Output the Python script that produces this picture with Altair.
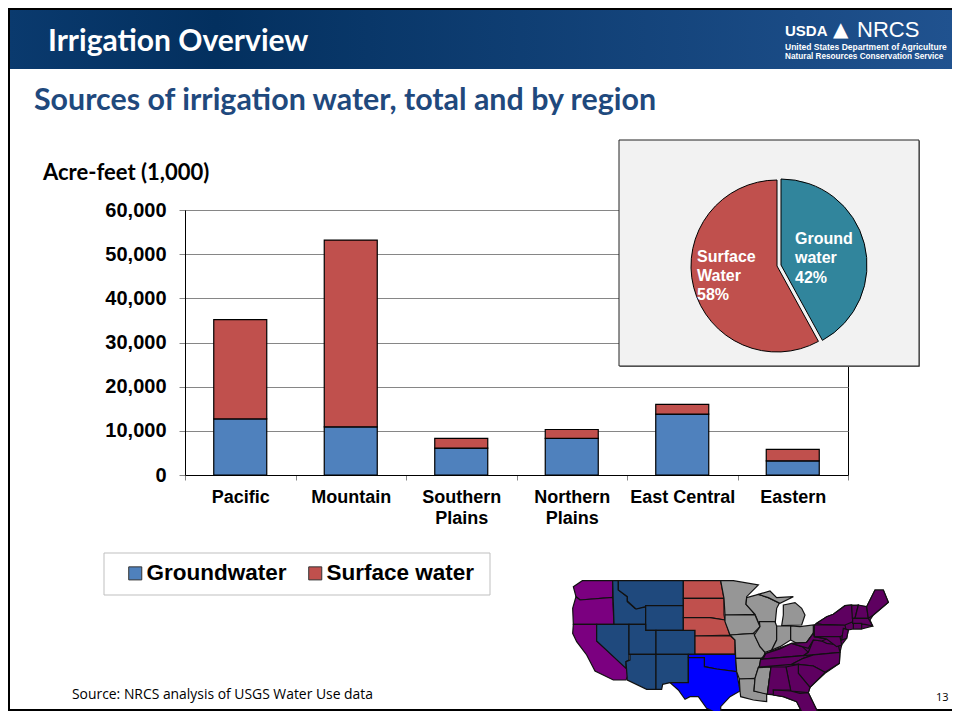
import math
import altair as alt
import pandas as pd

# ---- chart values ----
regions = ["Pacific", "Mountain", "Southern Plains", "Northern Plains", "East Central", "Eastern"]
groundwater = [12700, 10900, 6100, 8300, 13800, 3200]
surface_water = [22500, 42300, 2200, 2000, 2200, 2600]
series_names = ["Groundwater", "Surface water"]
series_colors = ["#4F81BD", "#C0504D"]
y_ticks = [0, 10000, 20000, 30000, 40000, 50000, 60000]
pie_names = ["Ground water", "Surface Water"]
pie_shares = [42, 58]
pie_colors = ["#31859C", "#C0504D"]

# ---- map outlines (crop pixels) ----
map_regions = {
    "#7B0080": [
        [(70,65),(97,47),(188,47),(188,97),(90,105),(78,95)],
        [(90,105),(188,97),(192,178),(70,178),(68,130),(78,95)],
        [(70,178),(140,178),(140,228),(240,318),(228,345),(190,345),(135,318),(110,270),(80,230),(68,205)],
    ],
    "#1F497D": [
        [(188,47),(205,47),(205,75),(232,95),(232,110),(255,130),(287,125),(287,178),(192,178)],
        [(205,47),(400,47),(400,122),(287,122),(287,125),(258,132),(232,108),(232,95),(205,75)],
        [(287,122),(400,122),(400,196),(287,196)],
        [(140,178),(237,178),(237,285),(228,290),(228,310),(140,228)],
        [(237,178),(287,178),(287,196),(318,196),(318,268),(237,268)],
        [(318,196),(435,196),(435,268),(318,268)],
        [(240,268),(318,268),(318,373),(290,373),(232,345),(228,290),(240,285)],
        [(318,268),(415,268),(415,353),(360,353),(338,358),(335,373),(318,373)],
    ],
    "#C0504D": [
        [(400,47),(512,47),(522,100),(400,100)],
        [(400,100),(522,100),(522,150),(525,165),(480,158),(400,158)],
        [(400,158),(480,158),(525,165),(540,210),(435,213),(435,196),(400,196)],
        [(435,213),(540,212),(555,225),(555,267),(435,267)],
    ],
    "#0000FF": [
        [(415,268),(557,268),(560,320),(500,312),(463,305),(463,278),(415,278)],
        [(415,278),(463,278),(463,305),(500,312),(560,320),(570,378),(540,395),(512,425),(513,450),(470,430),(445,395),(420,395),(405,403),(385,375),(360,353),(415,353)],
    ],
    "#969696": [
        [(512,47),(550,47),(625,60),(590,95),(588,118),(615,148),(525,150),(522,100)],
        [(590,98),(625,88),(655,98),(688,115),(680,130),(675,180),(628,180),(615,148),(588,118)],
        [(625,88),(660,78),(680,98),(730,95),(690,115),(655,98)],
        [(700,120),(735,113),(755,130),(765,150),(755,180),(695,182),(700,150)],
        [(525,150),(615,150),(630,185),(610,205),(540,210),(525,170)],
        [(540,210),(612,205),(630,245),(645,262),(640,280),(557,280),(555,225)],
        [(628,170),(675,170),(680,183),(680,225),(665,255),(645,262),(630,245),(613,210),(630,185)],
        [(680,183),(722,183),(722,225),(690,245),(665,255),(680,225)],
        [(722,183),(750,185),(790,180),(790,205),(770,232),(750,240),(722,225)],
        [(557,280),(640,280),(625,308),(615,340),(568,342),(560,320)],
        [(568,342),(615,340),(612,378),(650,385),(650,410),(610,405),(572,395),(570,378)],
        [(625,308),(663,306),(652,388),(612,378),(615,340)],
    ],
    "#5E0060": [
        [(632,283),(648,265),(725,235),(770,232),(790,205),(793,180),(800,175),(830,155),(850,148),(885,122),(905,120),(950,125),(975,75),(1000,75),(1015,112),(970,150),(960,165),(968,183),(935,192),(910,192),(895,195),(890,220),(875,240),(870,262),(868,295),(825,325),(780,367),(775,383),(805,445),(795,470),(770,470),(740,410),(700,395),(670,390),(652,388),(663,306),(628,306)],
        [(640,280),(648,265),(690,252),(725,235),(757,245),(775,262),(760,272),(632,283)],
        [(632,283),(760,272),(800,266),(760,280),(725,298),(628,306)],
        [(760,272),(775,262),(790,225),(815,228),(830,235),(865,240),(870,262)],
        [(725,235),(770,232),(790,205),(793,215),(830,222),(815,228),(790,225),(775,250),(757,245)],
        [(790,270),(870,262),(868,295),(825,322),(790,303),(745,298),(725,298),(760,280)],
        [(745,298),(790,303),(825,322),(780,367),(745,325)],
        [(708,306),(745,298),(745,325),(780,367),(775,383),(722,378)],
        [(663,306),(708,306),(722,375),(670,375),(672,388),(652,388)],
        [(670,375),(722,378),(750,385),(775,383),(805,445),(795,470),(770,470),(740,410),(700,395),(670,390)],
        [(793,180),(885,180),(890,205),(870,215),(793,215)],
        [(800,175),(830,155),(850,148),(885,122),(905,120),(910,170),(885,180),(815,178)],
        [(880,190),(895,195),(890,220),(875,225)],
        [(793,215),(870,215),(875,240),(860,245),(830,222)],
        [(905,122),(925,120),(915,160),(907,160)],
        [(925,120),(950,125),(955,160),(915,160)],
        [(950,125),(975,75),(1000,75),(1015,112),(970,150),(955,160)],
        [(908,160),(955,160),(968,183),(945,178),(908,175)],
        [(910,175),(935,175),(935,192),(910,192)],
    ],
}

OX, OY = 185, 210
PLOT_W, PLOT_H = 663, 265
RIGHT_EDGE, BOTTOM_EDGE = 952, 711
one = pd.DataFrame({"k": [1]})


def box(x0, y0, x1, y1, **style):
    return alt.Chart(one).mark_rect(**style).encode(
        x=alt.value(x0 - OX), x2=alt.value(x1 - OX),
        y=alt.value(y0 - OY), y2=alt.value(y1 - OY),
    )


def label(s, x, y, size, color="black", font="Liberation Sans", weight="normal", align="left"):
    return alt.Chart(one).mark_text(
        text=s, font=font, fontSize=size, fontWeight=weight, color=color,
        align=align, baseline="alphabetic",
    ).encode(x=alt.value(x - OX), y=alt.value(y - OY))


# ---- stacked bars ----
rows = []
for r, g, s in zip(regions, groundwater, surface_water):
    rows.append({"region": r, "source": series_names[0], "value": g, "idx": 0})
    rows.append({"region": r, "source": series_names[1], "value": s, "idx": 1})
bars = alt.Chart(pd.DataFrame(rows)).mark_bar(size=53, stroke="black", strokeWidth=1.2).encode(
    x=alt.X("region:N", sort=regions, title=None,
            scale=alt.Scale(paddingInner=0, paddingOuter=0),
            axis=alt.Axis(
                labelAngle=0, labelFont="Liberation Sans", labelFontSize=18, labelFontWeight="bold",
                labelColor="black", labelPadding=8, labelLineHeight=21, tickBand="extent",
                tickColor="#868686", tickSize=5, domainColor="black", labelLimit=200,
                labelExpr="datum.value == 'East Central' ? datum.label : split(datum.label, ' ')",
            )),
    y=alt.Y("value:Q", stack="zero", title=None,
            scale=alt.Scale(domain=[0, 60000], nice=False),
            axis=alt.Axis(
                values=y_ticks, format=",d", labelFont="Liberation Sans", labelFontSize=20,
                labelFontWeight="bold", labelColor="black", labelPadding=13, tickColor="#868686",
                tickSize=6, domainColor="black", gridColor="#868686", grid=True,
            )),
    order=alt.Order("idx:Q", sort="ascending"),
    color=alt.Color("source:N", title=None,
                    scale=alt.Scale(domain=series_names, range=series_colors),
                    legend=alt.Legend(
                        orient="none", legendX=124 - OX - 2, legendY=560 - OY, direction="horizontal",
                        symbolType="square", symbolSize=170, symbolStrokeColor="#333333",
                        symbolStrokeWidth=1, labelFont="Liberation Sans", labelFontSize=22.5,
                        labelFontWeight="bold", labelColor="black", columnPadding=17, labelOffset=0,
                        padding=2, labelLimit=300,
                    )),
)

# ---- inset pie ----
starts = [sum(pie_shares[:i]) for i in range(len(pie_shares))]
theta_scale = alt.Scale(domain=[0, 100], range=[0, 2 * math.pi])


def slice_layer(i, cx, cy):
    d = pd.DataFrame({"name": [pie_names[i]], "start": [starts[i]], "end": [starts[i] + pie_shares[i]]})
    return alt.Chart(d).mark_arc(radius=86, stroke="black", strokeWidth=1, fill=pie_colors[i]).encode(
        theta=alt.Theta("start:Q", scale=theta_scale),
        theta2=alt.Theta2("end:Q"),
        x=alt.value(cx - OX), y=alt.value(cy - OY),
    )


# ---- small map ----
map_rows = []
for color, polys in map_regions.items():
    for n, poly in enumerate(polys):
        for j, (px, py) in enumerate(poly):
            map_rows.append({"poly": f"{color}-{n:02d}", "j": j, "px": px, "py": py})
map_df = pd.DataFrame(map_rows)


def map_layer(color):
    d = map_df[map_df["poly"].str.startswith(color)]
    return alt.Chart(d).mark_line(
        fill=color, stroke="#111111", strokeWidth=1.2, interpolate="linear-closed"
    ).encode(
        x=alt.X("px:Q", axis=None, scale=alt.Scale(domain=[0, 1050], range=[550 - OX, 900 - OX], nice=False, zero=False)),
        y=alt.Y("py:Q", axis=None, scale=alt.Scale(domain=[0, 474], range=[565 - OY, 723 - OY], nice=False, zero=False)),
        detail="poly:N",
        order="j:Q",
    )


layers = [
    bars,
    # header band
    box(8, 8, RIGHT_EDGE, 69, fill=alt.LinearGradient(
        gradient="linear", x1=0, x2=1, y1=0, y2=0,
        stops=[alt.GradientStop(color="#0A3A6E", offset=0),
               alt.GradientStop(color="#03305F", offset=0.22),
               alt.GradientStop(color="#20528F", offset=1)])),
    box(8, 8, RIGHT_EDGE, 10, fill="black"),
    box(8, 8, 10, BOTTOM_EDGE, fill="black"),
    box(8, BOTTOM_EDGE - 2, RIGHT_EDGE, BOTTOM_EDGE, fill="black"),
    label("Irrigation Overview", 48, 51, 30, "white", "Lato", "bold"),
    label("Sources of irrigation water, total and by region", 34, 110, 30.4, "#1F497D", "Lato", "bold"),
    label("Acre-feet (1,000)", 43, 180, 22, "black", "Lato", "bold"),
    # logo
    label("USDA", 785, 36, 15, "white", "Liberation Sans", "bold"),
    label("\u25B2", 833, 36, 20, "white", "DejaVu Sans"),
    label("NRCS", 857, 37, 22, "white", "Liberation Sans"),
    label("United States Department of Agriculture", 785, 50, 8.5, "white", "Liberation Sans", "bold"),
    label("Natural Resources Conservation Service", 785, 59, 8.2, "white", "Liberation Sans", "bold"),
    # inset panel
    box(620, 141, 920, 367, fill="#7F7F7F"),
    box(619, 140, 919, 366, fill="#F2F2F2", stroke="#222222", strokeWidth=1),
    slice_layer(0, 781, 265),
    slice_layer(1, 777, 266),
    label("Ground", 795, 244, 16, "white", "Liberation Sans", "bold"),
    label("water", 795, 263, 16, "white", "Liberation Sans", "bold"),
    label("42%", 795, 283, 16, "white", "Liberation Sans", "bold"),
    label("Surface", 697, 262, 16, "white", "Liberation Sans", "bold"),
    label("Water", 697, 281, 16, "white", "Liberation Sans", "bold"),
    label("58%", 697, 300, 16, "white", "Liberation Sans", "bold"),
    # legend frame
    box(104, 553, 490, 595, fill="white", stroke="#BFBFBF", strokeWidth=1),
]
layers += [map_layer(c) for c in map_regions]
layers += [
    label("Source: NRCS analysis of USGS Water Use data", 72, 699, 13.9, "black", "Open Sans"),
    label("13", 936, 701, 11, "black", "Open Sans"),
]

chart = alt.layer(*layers).resolve_scale(color="independent", x="independent", y="independent").properties(
    width=PLOT_W, height=PLOT_H,
    autosize=alt.AutoSizeParams(type="none"),
    padding={"left": OX - 8, "top": OY - 8, "right": RIGHT_EDGE - OX - PLOT_W, "bottom": BOTTOM_EDGE - OY - PLOT_H},
    background="white",
).configure_view(stroke="black", strokeWidth=1)

chart.save("out.html", embed_options={"renderer": "svg", "actions": False})
